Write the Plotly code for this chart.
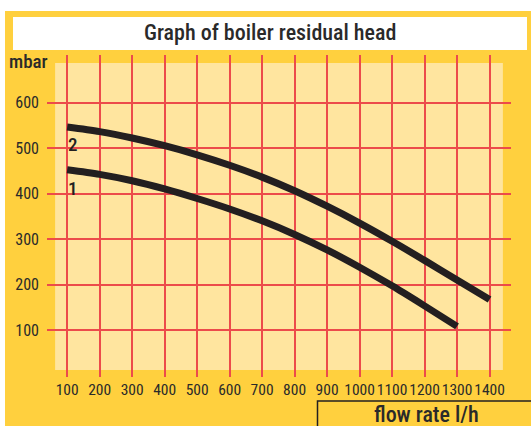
import plotly.graph_objects as go

# ---- data ----
flow_1 = [100, 200, 300, 400, 500, 600, 700, 800, 900, 1000, 1100, 1200, 1300]
head_1 = [452, 442, 428, 410, 389, 366, 340, 310, 276, 238, 197, 153, 108]

flow_2 = [100, 200, 300, 400, 500, 600, 700, 800, 900, 1000, 1100, 1200, 1300, 1400]
head_2 = [546, 536, 522, 505, 485, 462, 436, 406, 372, 335, 295, 253, 210, 167]

x_ticks = [100, 200, 300, 400, 500, 600, 700, 800, 900, 1000, 1100, 1200, 1300, 1400]
y_ticks = [100, 200, 300, 400, 500, 600]

series_labels = ["1", "2"]
title_text = "Graph of boiler residual head"
y_unit = "mbar"
x_title = "flow rate l/h"

# ---- styles ----
FONT = "Roboto Condensed, Roboto, sans-serif"
YELLOW = "#FFD03E"
LIGHT = "#FFE59F"
RED = "#EC4B4B"
INK = "#231F20"
TXT = "#2A2A2A"

W, H = 531, 426
ML, MR, MT, MB = 47, 20, 55, 49
PW, PH = W - ML - MR, H - MT - MB


def px(xp):
    return (xp - ML) / PW


def py(yp):
    return (H - MB - yp) / PH


fig = go.Figure()

line_style = dict(color=INK, width=7, shape="spline", smoothing=0.8)
fig.add_trace(go.Scatter(x=flow_1, y=head_1, mode="lines", line=line_style,
                         name=series_labels[0], hoverinfo="skip"))
fig.add_trace(go.Scatter(x=flow_2, y=head_2, mode="lines", line=line_style,
                         name=series_labels[1], hoverinfo="skip"))

shapes = [
    # outer yellow card
    dict(type="rect", xref="paper", yref="paper", x0=px(5), x1=px(540),
         y0=py(440), y1=py(11), fillcolor=YELLOW, line=dict(width=0), layer="below"),
    # white title strip
    dict(type="rect", xref="paper", yref="paper", x0=px(13), x1=px(527),
         y0=py(50), y1=py(17), fillcolor="white", line=dict(width=0), layer="below"),
    # light plot panel
    dict(type="rect", xref="x", yref="y", x0=63, x1=1441, y0=12, y1=687,
         fillcolor=LIGHT, line=dict(width=0), layer="below"),
    # x-axis title box
    dict(type="rect", xref="paper", yref="paper", x0=px(317.5), x1=px(545),
         y0=py(445), y1=py(401), fillcolor="rgba(0,0,0,0)",
         line=dict(color=INK, width=1.5), layer="above"),
]

annotations = [
    dict(text=title_text, xref="paper", yref="paper", x=px(270), y=py(33),
         xanchor="center", yanchor="middle", showarrow=False,
         font=dict(family=FONT, size=22, color=TXT, weight=500)),
    dict(text=y_unit, xref="paper", yref="paper", x=px(7), y=py(61),
         xanchor="left", yanchor="middle", showarrow=False,
         font=dict(family=FONT, size=19, color=TXT, weight=500)),
    dict(text=x_title, xref="paper", yref="paper", x=px(426.5), y=py(414),
         xanchor="center", yanchor="middle", showarrow=False,
         font=dict(family=FONT, size=22, color=TXT, weight=500)),
    dict(text=series_labels[1], x=flow_2[0], y=head_2[0], xref="x", yref="y",
         xanchor="center", yanchor="middle", xshift=6, yshift=-17, showarrow=False,
         font=dict(family=FONT, size=19, color=INK, weight=500)),
    dict(text=series_labels[0], x=flow_1[0], y=head_1[0], xref="x", yref="y",
         xanchor="center", yanchor="middle", xshift=6, yshift=-19, showarrow=False,
         font=dict(family=FONT, size=19, color=INK, weight=500)),
]

fig.update_layout(
    width=W, height=H,
    margin=dict(l=ML, r=MR, t=MT, b=MB, pad=0),
    paper_bgcolor="white",
    plot_bgcolor=YELLOW,
    showlegend=False,
    shapes=shapes,
    annotations=annotations,
    xaxis=dict(range=[38, 1466], tickmode="array", tickvals=x_ticks,
               showgrid=True, gridcolor=RED, gridwidth=1.5, zeroline=False,
               showline=False, ticks="", ticklabelstandoff=1, tickangle=0,
               tickfont=dict(family=FONT, size=15.5, color=TXT), fixedrange=True),
    yaxis=dict(range=[-3.3, 704.4], tickmode="array", tickvals=y_ticks,
               showgrid=True, gridcolor=RED, gridwidth=1.5, zeroline=False,
               showline=False, ticks="", ticklabelstandoff=7,
               tickfont=dict(family=FONT, size=16, color=TXT), fixedrange=True),
)

fig.write_html("out.html", config={"displayModeBar": False},
               post_script="document.body.style.margin='0';")
